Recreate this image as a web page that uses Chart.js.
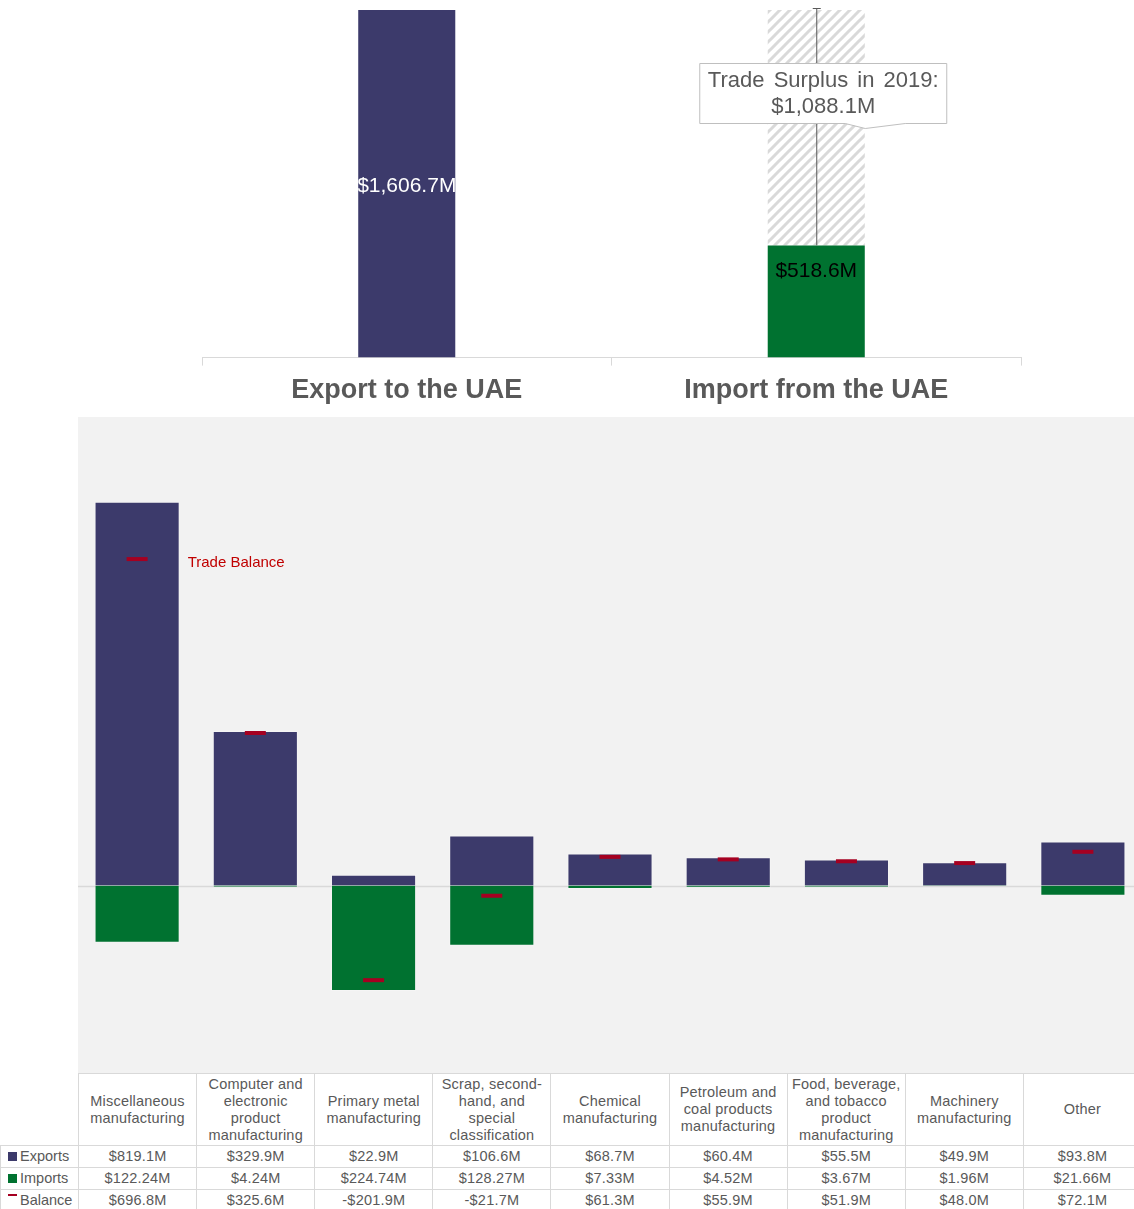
<!DOCTYPE html>
<html>
<head>
<meta charset="utf-8">
<script src="https://cdn.jsdelivr.net/npm/chart.js@4/dist/chart.umd.min.js"></script>
<style>
body { margin: 0; background: #fff; font-family: "Liberation Sans", Arial, sans-serif; }
#wrap { position: relative; width: 1134px; height: 1209px; overflow: hidden; }
#top { position: absolute; left: 0; top: 0; }
#bottom { position: absolute; left: 78px; top: 417px; background: #f2f2f2; }
#tbl { position: absolute; left: 0; top: 1073px; width: 1142px; border-collapse: collapse; table-layout: fixed; color: #595959; font-size: 14.5px; letter-spacing: 0.2px; }
#tbl td { border: 1px solid #d9d9d9; text-align: center; padding: 0; line-height: 17px; white-space: nowrap; }
#tbl tr.head td { height: 71px; }
#tbl tr.row td { height: 21px; }
#tbl td.corner { border: none; border-right: 1px solid #d9d9d9; border-bottom: 1px solid #d9d9d9; }
#tbl td.lab { text-align: left; padding-left: 7px; letter-spacing: 0; }
.mk { display: inline-block; width: 9px; height: 9px; margin-right: 3px; vertical-align: 0px; }
.mkline { display: inline-block; width: 9px; height: 2px; margin-right: 3px; vertical-align: 9px; }
</style>
</head>
<body>
<div id="wrap">
  <canvas id="top" width="1134" height="417"></canvas>
  <canvas id="bottom" width="1064" height="656"></canvas>
  <table id="tbl"></table>
</div>
<script>
// top chart: totals
const topLabels = ['Export to the UAE', 'Import from the UAE'];
const totalExport = 1606.7;
const totalImport = 518.6;
const tradeSurplus = 1088.1;

// bottom chart: by industry
const categories = [
    ['Miscellaneous', 'manufacturing'],
    ['Computer and', 'electronic', 'product', 'manufacturing'],
    ['Primary metal', 'manufacturing'],
    ['Scrap, second-', 'hand, and', 'special', 'classification'],
    ['Chemical', 'manufacturing'],
    ['Petroleum and', 'coal products', 'manufacturing'],
    ['Food, beverage,', 'and tobacco', 'product', 'manufacturing'],
    ['Machinery', 'manufacturing'],
    ['Other']
];
const exportsVals = [819.1, 329.9, 22.9, 106.6, 68.7, 60.4, 55.5, 49.9, 93.8];
const importsVals = [122.24, 4.24, 224.74, 128.27, 7.33, 4.52, 3.67, 1.96, 21.66];
const balanceVals = [696.8, 325.6, -201.9, -21.7, 61.3, 55.9, 51.9, 48.0, 72.1];

const NAVY = '#3c3a6b';
const GREEN = '#007230';
const RED = '#a50021';
const GREY_TEXT = '#595959';
const FONT = '"Liberation Sans", Arial, sans-serif';

function hatch() {
    const c = document.createElement('canvas');
    c.width = 10; c.height = 10;
    const g = c.getContext('2d');
    g.fillStyle = '#fff';
    g.fillRect(0, 0, 10, 10);
    g.strokeStyle = '#d9d9d9';
    g.lineWidth = 3;
    g.beginPath();
    g.moveTo(-2, 12); g.lineTo(12, -2);
    g.moveTo(-7, 7); g.lineTo(7, -7);
    g.moveTo(3, 17); g.lineTo(17, 3);
    g.stroke();
    return g.createPattern(c, 'repeat');
}

function money(v, d) {
    const s = Math.abs(v).toLocaleString('en-US', { minimumFractionDigits: d, maximumFractionDigits: d });
    return (v < 0 ? '-$' : '$') + s + 'M';
}

// labels + surplus callout on the top chart
const topDecor = {
    id: 'topDecor',
    afterDatasetsDraw(chart) {
        const ctx = chart.ctx;
        const ex = chart.getDatasetMeta(0).data[0];
        const im = chart.getDatasetMeta(1).data[1];
        const su = chart.getDatasetMeta(2).data[1];
        ctx.save();

        // export value, clipped to the bar
        ctx.save();
        ctx.beginPath();
        ctx.rect(ex.x - ex.width / 2, ex.y, ex.width, ex.base - ex.y);
        ctx.clip();
        ctx.fillStyle = '#fff';
        ctx.font = '21px ' + FONT;
        ctx.textAlign = 'center';
        ctx.textBaseline = 'middle';
        ctx.fillText(money(totalExport, 1), ex.x, (ex.y + ex.base) / 2 + 2);
        ctx.restore();

        // import value
        ctx.fillStyle = '#000';
        ctx.font = '21px ' + FONT;
        ctx.textAlign = 'center';
        ctx.textBaseline = 'middle';
        ctx.fillText(money(totalImport, 1), im.x, im.y + 26);

        // surplus line with cap
        ctx.strokeStyle = GREY_TEXT;
        ctx.lineWidth = 1;
        ctx.beginPath();
        ctx.moveTo(su.x + 0.5, su.y - 2);
        ctx.lineTo(su.x + 0.5, su.base);
        ctx.moveTo(su.x - 3.5, su.y - 2 + 0.5);
        ctx.lineTo(su.x + 4.5, su.y - 2 + 0.5);
        ctx.stroke();

        // callout box
        const l = su.x - 116.5, r = su.x + 130.5, t = su.y + 53.5, b = su.y + 113.5;
        ctx.beginPath();
        ctx.moveTo(l, t); ctx.lineTo(r, t); ctx.lineTo(r, b);
        ctx.lineTo(su.x + 89, b); ctx.lineTo(su.x + 49, b + 5); ctx.lineTo(su.x + 29, b);
        ctx.lineTo(l, b); ctx.closePath();
        ctx.fillStyle = '#fff';
        ctx.fill();
        ctx.strokeStyle = '#bfbfbf';
        ctx.stroke();
        ctx.fillStyle = GREY_TEXT;
        ctx.font = '22px ' + FONT;
        ctx.wordSpacing = '3px';
        ctx.fillText('Trade Surplus in 2019:', (l + r) / 2, t + 17);
        ctx.wordSpacing = '0px';
        ctx.fillText(money(tradeSurplus, 1), (l + r) / 2, t + 43);
        ctx.restore();
    }
};

new Chart(document.getElementById('top'), {
    type: 'bar',
    data: {
        labels: topLabels,
        datasets: [
            { label: 'Exports', data: [totalExport, null], backgroundColor: NAVY },
            { label: 'Imports', data: [null, totalImport], backgroundColor: GREEN },
            { label: 'Surplus', data: [null, tradeSurplus], backgroundColor: hatch() }
        ]
    },
    options: {
        responsive: false,
        animation: false,
        devicePixelRatio: 1,
        categoryPercentage: 1,
        barPercentage: 0.237,
        layout: { padding: { left: 202, right: 113, top: 10, bottom: 1 } },
        plugins: { legend: { display: false }, tooltip: { enabled: false } },
        scales: {
            x: {
                stacked: true,
                grid: { offset: true, drawOnChartArea: false, color: '#d9d9d9', tickLength: 8 },
                border: { color: '#d9d9d9' },
                ticks: { color: GREY_TEXT, padding: 9, font: { family: FONT, size: 27, weight: 'bold' } }
            },
            y: { stacked: true, display: false, min: 0, max: totalExport }
        }
    },
    plugins: [topDecor]
});

// zero line and trade balance note on the bottom chart
const bottomDecor = {
    id: 'bottomDecor',
    beforeDatasetsDraw(chart) {
        const ctx = chart.ctx;
        const y0 = Math.round(chart.scales.y.getPixelForValue(0)) + 0.5;
        ctx.save();
        ctx.strokeStyle = '#d9d9d9';
        ctx.lineWidth = 1.5;
        ctx.beginPath();
        ctx.moveTo(0, y0);
        ctx.lineTo(chart.width, y0);
        ctx.stroke();
        ctx.restore();
    },
    afterDatasetsDraw(chart) {
        const ctx = chart.ctx;
        const bar = chart.getDatasetMeta(1).data[0];
        const pt = chart.getDatasetMeta(0).data[0];
        ctx.save();
        ctx.fillStyle = '#c00000';
        ctx.font = '15px ' + FONT;
        ctx.textBaseline = 'middle';
        ctx.fillText('Trade Balance', bar.x + bar.width / 2 + 8, pt.y + 4);
        ctx.restore();
    }
};

new Chart(document.getElementById('bottom'), {
    type: 'bar',
    data: {
        labels: categories,
        datasets: [
            {
                type: 'line', label: 'Balance', data: balanceVals, order: 0, showLine: false,
                pointStyle: 'line', pointRadius: 10.5, pointHoverRadius: 10.5,
                pointBorderWidth: 4, borderColor: RED, pointBorderColor: RED, clip: false
            },
            { label: 'Exports', data: exportsVals, backgroundColor: NAVY, borderColor: 'rgba(255,255,255,0.2)', borderWidth: 1, order: 1 },
            { label: 'Imports', data: importsVals.map(v => -v), backgroundColor: GREEN, borderColor: 'rgba(255,255,255,0.2)', borderWidth: 1, order: 1 }
        ]
    },
    options: {
        responsive: false,
        animation: false,
        devicePixelRatio: 1,
        categoryPercentage: 1,
        barPercentage: 0.72,
        layout: { padding: 0, autoPadding: false },
        plugins: { legend: { display: false }, tooltip: { enabled: false } },
        scales: {
            x: { stacked: true, display: false, offset: true },
            y: { display: false, min: -400, max: 1000 }
        }
    },
    plugins: [bottomDecor]
});

// data table under the bottom chart
const tbl = document.getElementById('tbl');
let html = '<colgroup><col style="width:78px">';
categories.forEach(() => { html += '<col>'; });
html += '</colgroup><tr class="head"><td class="corner"></td>';
categories.forEach(c => { html += '<td>' + c.join('<br>') + '</td>'; });
html += '</tr>';
const rows = [
    ['Exports', '<span class="mk" style="background:' + NAVY + '"></span>', exportsVals.map(v => money(v, 1))],
    ['Imports', '<span class="mk" style="background:' + GREEN + '"></span>', importsVals.map(v => money(v, 2))],
    ['Balance', '<span class="mkline" style="background:' + RED + '"></span>', balanceVals.map(v => money(v, 1))]
];
rows.forEach(r => {
    html += '<tr class="row"><td class="lab">' + r[1] + r[0] + '</td>';
    r[2].forEach(s => { html += '<td>' + s + '</td>'; });
    html += '</tr>';
});
tbl.innerHTML = html;
</script>
</body>
</html>
